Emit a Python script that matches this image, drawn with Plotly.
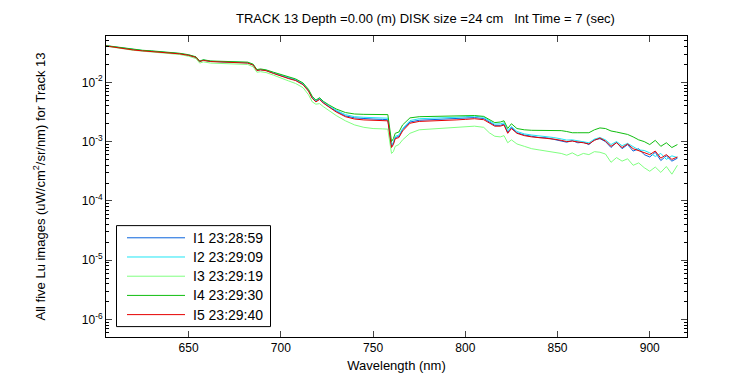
import plotly.graph_objects as go

wavelength = [605, 610, 615, 620, 625, 630, 635, 640, 645, 650, 654, 656, 658, 662, 667, 672, 677, 682, 685, 687,
              689, 692, 696, 700, 704, 708, 712, 715, 717, 719, 721, 723, 726, 730, 735, 740, 745, 750, 755, 758,
              760, 761, 762, 764, 766, 770, 775, 780, 785, 790, 795, 800, 805, 810, 813, 816, 819, 821, 823, 825,
              828, 832, 836, 840, 844, 848, 852, 855, 858, 861, 864, 867, 870, 873, 876, 879, 882, 885, 888, 891,
              894, 897, 900, 903, 906, 909, 912, 915]

I1 = [4.13e-2, 3.92e-2, 3.70e-2, 3.53e-2, 3.41e-2, 3.33e-2, 3.26e-2, 3.18e-2, 3.04e-2, 2.87e-2, 2.64e-2, 2.25e-2,
      2.36e-2, 2.25e-2, 2.23e-2, 2.20e-2, 2.18e-2, 2.13e-2, 1.96e-2, 1.60e-2, 1.63e-2, 1.58e-2, 1.43e-2, 1.29e-2,
      1.18e-2, 1.09e-2, 9.29e-3, 7.21e-3, 5.50e-3, 4.79e-3, 5.25e-3, 4.57e-3, 3.89e-3, 3.27e-3, 2.72e-3, 2.51e-3,
      2.43e-3, 2.40e-3, 2.37e-3, 2.34e-3, 8.32e-4, 9.33e-4, 1.16e-3, 1.23e-3, 1.58e-3, 2.14e-3, 2.29e-3, 2.32e-3,
      2.37e-3, 2.40e-3, 2.43e-3, 2.48e-3, 2.54e-3, 2.45e-3, 2.11e-3, 1.88e-3, 1.88e-3, 1.97e-3, 1.43e-3, 1.72e-3,
      1.41e-3, 1.29e-3, 1.23e-3, 1.17e-3, 1.16e-3, 1.10e-3, 1.02e-3, 9.77e-4, 1.04e-3, 9.55e-4, 9.77e-4, 8.91e-4,
      1.07e-3, 1.12e-3, 1.00e-3, 7.94e-4, 9.77e-4, 7.59e-4, 8.91e-4, 6.92e-4, 7.59e-4, 6.03e-4, 5.50e-4, 6.61e-4,
      4.79e-4, 5.75e-4, 4.68e-4, 5.25e-4]

I2 = [4.14e-2, 3.94e-2, 3.72e-2, 3.55e-2, 3.43e-2, 3.35e-2, 3.27e-2, 3.20e-2, 3.05e-2, 2.88e-2, 2.66e-2, 2.26e-2,
      2.37e-2, 2.26e-2, 2.24e-2, 2.21e-2, 2.19e-2, 2.15e-2, 1.98e-2, 1.61e-2, 1.65e-2, 1.60e-2, 1.45e-2, 1.32e-2,
      1.20e-2, 1.11e-2, 9.44e-3, 7.33e-3, 5.62e-3, 4.90e-3, 5.37e-3, 4.68e-3, 4.03e-3, 3.39e-3, 2.85e-3, 2.63e-3,
      2.57e-3, 2.54e-3, 2.51e-3, 2.48e-3, 8.71e-4, 9.77e-4, 1.23e-3, 1.29e-3, 1.66e-3, 2.26e-3, 2.43e-3, 2.45e-3,
      2.51e-3, 2.54e-3, 2.57e-3, 2.63e-3, 2.69e-3, 2.57e-3, 2.21e-3, 1.97e-3, 2.00e-3, 2.07e-3, 1.51e-3, 1.80e-3,
      1.48e-3, 1.35e-3, 1.29e-3, 1.26e-3, 1.23e-3, 1.17e-3, 1.11e-3, 1.06e-3, 1.07e-3, 1.04e-3, 1.00e-3, 9.55e-4,
      1.10e-3, 1.17e-3, 1.07e-3, 8.91e-4, 1.00e-3, 8.51e-4, 9.33e-4, 8.13e-4, 7.24e-4, 7.08e-4, 6.46e-4, 5.62e-4,
      6.31e-4, 5.01e-4, 5.75e-4, 5.37e-4]

I3 = [4.07e-2, 3.85e-2, 3.63e-2, 3.47e-2, 3.35e-2, 3.26e-2, 3.18e-2, 3.10e-2, 2.95e-2, 2.75e-2, 2.51e-2, 2.11e-2,
      2.21e-2, 2.11e-2, 2.09e-2, 2.07e-2, 2.04e-2, 2.00e-2, 1.82e-2, 1.48e-2, 1.51e-2, 1.46e-2, 1.32e-2, 1.17e-2,
      1.06e-2, 9.55e-3, 8.13e-3, 6.17e-3, 4.68e-3, 4.27e-3, 4.37e-3, 3.89e-3, 3.31e-3, 2.75e-3, 2.24e-3, 1.91e-3,
      1.74e-3, 1.66e-3, 1.64e-3, 1.62e-3, 6.31e-4, 6.76e-4, 8.32e-4, 8.91e-4, 1.07e-3, 1.38e-3, 1.58e-3, 1.62e-3,
      1.66e-3, 1.70e-3, 1.74e-3, 1.80e-3, 1.82e-3, 1.74e-3, 1.41e-3, 1.23e-3, 1.20e-3, 1.26e-3, 9.55e-4, 1.07e-3,
      9.12e-4, 8.32e-4, 7.59e-4, 7.24e-4, 6.92e-4, 6.76e-4, 6.31e-4, 5.89e-4, 6.46e-4, 5.75e-4, 6.31e-4, 6.03e-4,
      6.76e-4, 6.61e-4, 6.17e-4, 4.47e-4, 5.37e-4, 4.68e-4, 5.13e-4, 3.98e-4, 4.37e-4, 3.63e-4, 3.16e-4, 3.72e-4,
      3.02e-4, 3.80e-4, 2.82e-4, 3.98e-4]

I4 = [4.17e-2, 3.98e-2, 3.76e-2, 3.59e-2, 3.47e-2, 3.39e-2, 3.31e-2, 3.24e-2, 3.09e-2, 2.92e-2, 2.69e-2, 2.29e-2,
      2.40e-2, 2.29e-2, 2.26e-2, 2.24e-2, 2.21e-2, 2.19e-2, 2.02e-2, 1.64e-2, 1.68e-2, 1.62e-2, 1.48e-2, 1.35e-2,
      1.23e-2, 1.14e-2, 9.77e-3, 7.59e-3, 5.82e-3, 5.01e-3, 5.50e-3, 4.79e-3, 4.17e-3, 3.55e-3, 3.09e-3, 2.92e-3,
      2.88e-3, 2.88e-3, 2.88e-3, 2.85e-3, 1.00e-3, 1.12e-3, 1.38e-3, 1.45e-3, 1.91e-3, 2.51e-3, 2.63e-3, 2.66e-3,
      2.69e-3, 2.69e-3, 2.72e-3, 2.72e-3, 2.75e-3, 2.66e-3, 2.34e-3, 2.09e-3, 2.14e-3, 2.24e-3, 1.66e-3, 2.00e-3,
      1.66e-3, 1.58e-3, 1.55e-3, 1.55e-3, 1.55e-3, 1.55e-3, 1.53e-3, 1.48e-3, 1.41e-3, 1.41e-3, 1.40e-3, 1.41e-3,
      1.58e-3, 1.70e-3, 1.66e-3, 1.51e-3, 1.45e-3, 1.38e-3, 1.32e-3, 1.20e-3, 1.07e-3, 1.00e-3, 8.91e-4, 1.05e-3,
      8.32e-4, 9.55e-4, 7.94e-4, 8.91e-4]

I5 = [4.11e-2, 3.89e-2, 3.67e-2, 3.51e-2, 3.39e-2, 3.31e-2, 3.24e-2, 3.16e-2, 3.02e-2, 2.85e-2, 2.63e-2, 2.24e-2,
      2.34e-2, 2.24e-2, 2.21e-2, 2.19e-2, 2.16e-2, 2.11e-2, 1.95e-2, 1.58e-2, 1.62e-2, 1.57e-2, 1.41e-2, 1.27e-2,
      1.16e-2, 1.07e-2, 9.12e-3, 7.08e-3, 5.37e-3, 4.68e-3, 5.13e-3, 4.47e-3, 3.80e-3, 3.16e-3, 2.63e-3, 2.40e-3,
      2.32e-3, 2.29e-3, 2.26e-3, 2.24e-3, 7.94e-4, 8.91e-4, 1.12e-3, 1.17e-3, 1.51e-3, 2.04e-3, 2.19e-3, 2.21e-3,
      2.26e-3, 2.29e-3, 2.32e-3, 2.37e-3, 2.43e-3, 2.34e-3, 2.04e-3, 1.82e-3, 1.82e-3, 1.91e-3, 1.38e-3, 1.66e-3,
      1.38e-3, 1.26e-3, 1.20e-3, 1.17e-3, 1.15e-3, 1.10e-3, 1.05e-3, 1.00e-3, 1.02e-3, 1.00e-3, 9.55e-4, 9.12e-4,
      1.05e-3, 1.15e-3, 1.02e-3, 8.32e-4, 9.55e-4, 7.94e-4, 9.12e-4, 7.59e-4, 7.08e-4, 6.61e-4, 6.03e-4, 6.92e-4,
      5.25e-4, 6.03e-4, 5.01e-4, 5.50e-4]

series_names = ["I1 23:28:59", "I2 23:29:09", "I3 23:29:19", "I4 23:29:30", "I5 23:29:40"]
series_colors = ["#0A64DC", "#1EE6F5", "#80FF80", "#10BE10", "#E60000"]

x_ticks = [650, 700, 750, 800, 850, 900]
y_tick_vals = [1e-6, 1e-5, 1e-4, 1e-3, 1e-2]
y_tick_text = ["10<sup>-6</sup>", "10<sup>-5</sup>", "10<sup>-4</sup>", "10<sup>-3</sup>", "10<sup>-2</sup>"]

title_text = "TRACK 13 Depth =0.00 (m) DISK size =24 cm\u00a0\u00a0\u00a0Int Time = 7 (sec)"
ylabel_text = "All five Lu images (uW/cm<sup>2</sup>/sr/nm) for Track 13"

FONT = "Liberation Sans, Arial, sans-serif"
W, H = 750, 375
ML, MR, MT, MB = 98, 71, 28, 43
PW, PH = W - ML - MR, H - MT - MB


def px(x):
    return (x - ML) / PW


def py(y):
    return (H - MB - y) / PH


fig = go.Figure()
for name, color, vals in zip(series_names, series_colors, [I1, I2, I3, I4, I5]):
    fig.add_trace(go.Scatter(x=wavelength, y=vals, mode="lines", name=name,
                             line=dict(color=color, width=1), showlegend=False))

minor_y = [k * 10.0 ** e for e in range(-7, 0) for k in range(2, 10)]

# legend drawn as a box with sample lines and labels
shapes = [dict(type="rect", xref="paper", yref="paper", x0=px(108.5), x1=px(262.5),
               y0=py(321.5), y1=py(219.5), line=dict(color="black", width=1), fillcolor="white", layer="above")]
annotations = []
entry_y = [231.8, 251.2, 270.6, 290.0, 309.4]
for name, color, ey in zip(series_names, series_colors, entry_y):
    shapes.append(dict(type="line", xref="paper", yref="paper", x0=px(119), x1=px(177),
                       y0=py(ey), y1=py(ey), line=dict(color=color, width=1), layer="above"))
    annotations.append(dict(text=name, xref="paper", yref="paper", x=px(183), y=py(ey),
                            xanchor="left", yanchor="middle", showarrow=False,
                            font=dict(size=14, family=FONT, color="black")))

annotations += [
    dict(text=title_text, xref="paper", yref="paper", x=px(417), y=py(10.5),
         xanchor="center", yanchor="middle", showarrow=False, font=dict(size=13)),
    dict(text=ylabel_text, xref="paper", yref="paper", x=px(31), y=0.5, textangle=-90,
         xanchor="center", yanchor="middle", showarrow=False, font=dict(size=13)),
]

fig.update_layout(
    width=W, height=H,
    margin=dict(l=ML, r=MR, t=MT, b=MB),
    paper_bgcolor="white", plot_bgcolor="white",
    font=dict(family=FONT, size=12, color="black"),
    showlegend=False,
    xaxis=dict(range=[605.2, 920.2], tickvals=x_ticks, ticks="inside", ticklen=6,
               showline=True, linecolor="black", linewidth=1, mirror="ticks",
               showgrid=False, zeroline=False, tickfont=dict(size=12),
               title=dict(text="Wavelength (nm)", font=dict(size=13), standoff=6)),
    yaxis=dict(type="log", range=[-6.296, -1.219], tickvals=y_tick_vals, ticktext=y_tick_text,
               ticks="inside", ticklen=6, showline=True, linecolor="black", linewidth=1,
               mirror="ticks", showgrid=False, zeroline=False, tickfont=dict(size=12),
               minor=dict(tickvals=minor_y, ticks="inside", ticklen=3, tickcolor="black", showgrid=False)),
    shapes=shapes,
    annotations=annotations,
)

fig.write_html("out.html")
